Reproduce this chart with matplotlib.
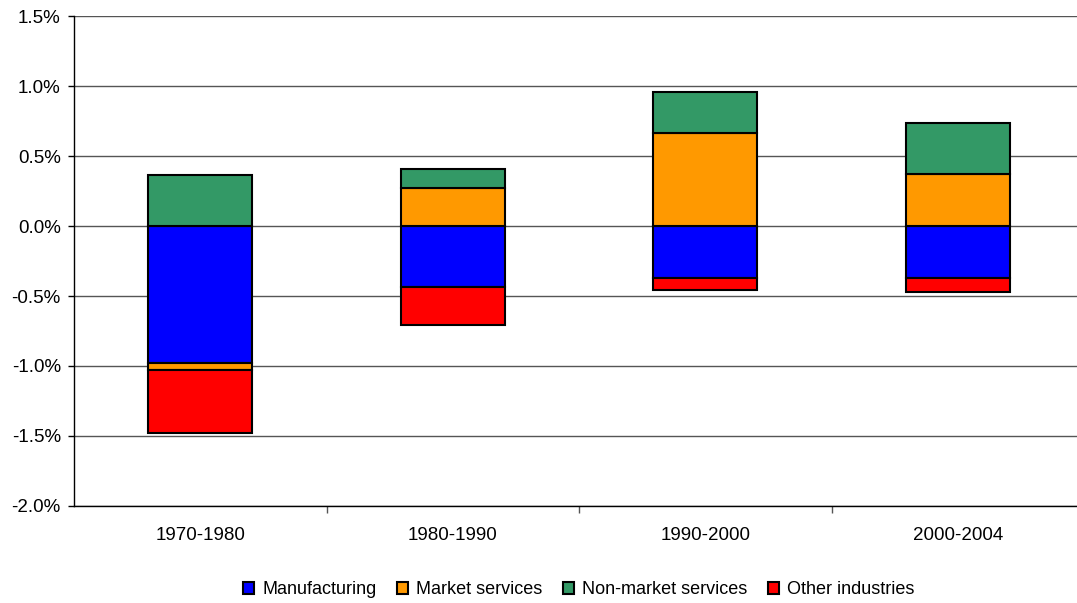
import matplotlib.pyplot as plt
import numpy as np
from matplotlib.ticker import FuncFormatter, FixedLocator

plt.rcParams['font.family'] = ['Liberation Sans', 'DejaVu Sans']

periods = ['1970-1980', '1980-1990', '1990-2000', '2000-2004']
sectors = ['Manufacturing', 'Market services', 'Non-market services', 'Other industries']
colors = ['#0000FF', '#FF9900', '#339966', '#FF0000']

# contributions in percentage points
manufacturing = [-0.98, -0.434, -0.37, -0.37]
market_services = [-0.05, 0.27, 0.664, 0.374]
non_market_services = [0.364, 0.14, 0.293, 0.364]
other_industries = [-0.45, -0.276, -0.087, -0.101]

series = [manufacturing, market_services, non_market_services, other_industries]

fig = plt.figure(figsize=(10.77, 6.03), dpi=100)
ax = fig.add_axes([74 / 1077, 97 / 603, 1010 / 1077, 490 / 603])

x = np.arange(len(periods))
pos_base = np.zeros(len(periods))
neg_base = np.zeros(len(periods))
for name, vals, col in zip(sectors, series, colors):
    vals = np.array(vals)
    bottom = np.where(vals >= 0, pos_base, neg_base)
    ax.bar(x, vals, bottom=bottom, width=0.41, color=col, edgecolor='black',
           linewidth=1.5, label=name, zorder=3)
    pos_base = pos_base + np.where(vals >= 0, vals, 0)
    neg_base = neg_base + np.where(vals < 0, vals, 0)

ax.set_xlim(-0.5, 3.5)
ax.set_ylim(-2.0, 1.5)
ax.set_yticks(np.arange(-2.0, 1.51, 0.5))
ax.yaxis.set_major_formatter(FuncFormatter(lambda v, p: '%.1f%%' % v))
ax.grid(axis='y', color='#555555', linewidth=1, zorder=0)

ax.set_xticks(x)
ax.set_xticklabels(periods)
ax.xaxis.set_minor_locator(FixedLocator([0.5, 1.5, 2.5]))
ax.tick_params(axis='x', which='major', length=0, pad=15, labelsize=13.5)
ax.tick_params(axis='x', which='minor', length=5, width=1, color='#555555')
ax.tick_params(axis='y', length=4.5, width=1, pad=5, labelsize=13.5)

ax.spines['top'].set_visible(False)
ax.spines['right'].set_visible(False)
ax.spines['left'].set_linewidth(1)
ax.spines['bottom'].set_linewidth(1)

fig.legend(loc='center', bbox_to_anchor=(579 / 1077, 0.022), ncol=4, frameon=False,
           fontsize=13, handlelength=0.6, handleheight=0.6, handletextpad=0.45,
           columnspacing=1.15, borderaxespad=0)

fig.savefig('out.png', dpi=100)
